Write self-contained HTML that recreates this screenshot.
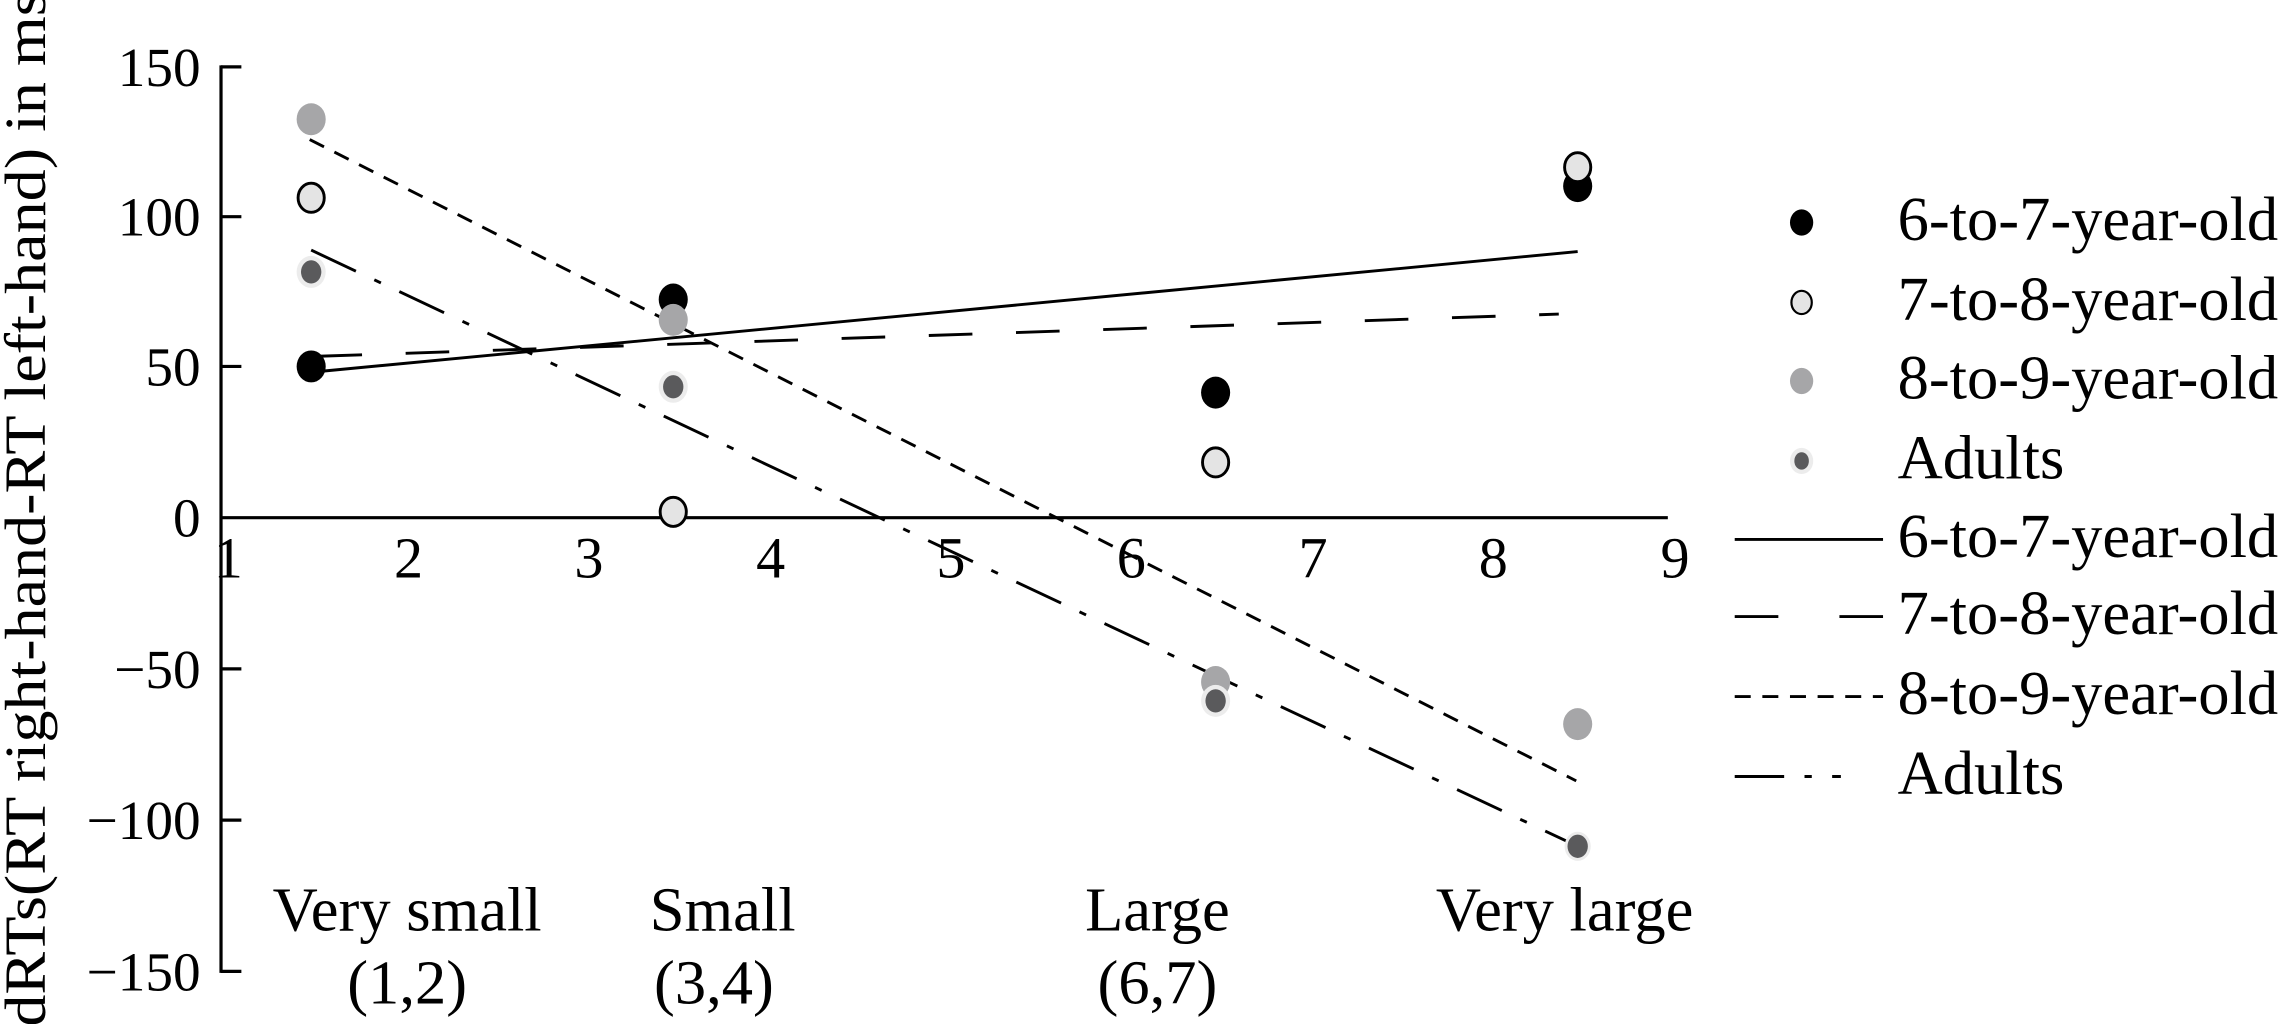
<!DOCTYPE html>
<html><head><meta charset="utf-8"><style>
html,body{margin:0;padding:0;background:#fff;}
svg{display:block;}
text{font-family:"Liberation Serif",serif;fill:#000;}
</style></head><body>
<svg width="2280" height="1024" viewBox="0 0 1568 704.2" preserveAspectRatio="none" xmlns="http://www.w3.org/2000/svg">
<rect width="1568" height="704.2" fill="#fff"/>
<text transform="translate(31,706) rotate(-90)" font-size="40" textLength="712" lengthAdjust="spacingAndGlyphs">dRTs(RT right-hand-RT left-hand) in ms</text>
<g stroke="#000" stroke-width="2.2" fill="none">
<line x1="152" y1="45" x2="152" y2="669"/>
<line x1="152" y1="46" x2="166" y2="46"/>
<line x1="152" y1="149" x2="166" y2="149"/>
<line x1="152" y1="252" x2="166" y2="252"/>
<line x1="152" y1="460" x2="166" y2="460"/>
<line x1="152" y1="564" x2="166" y2="564"/>
<line x1="152" y1="668" x2="166" y2="668"/>
<line x1="152" y1="356" x2="1147" y2="356"/>
</g>
<g font-size="38" text-anchor="end">
<text x="138" y="59">150</text>
<text x="138" y="162">100</text>
<text x="138" y="265">50</text>
<text x="138" y="369">0</text>
<text x="138" y="473">−50</text>
<text x="138" y="577">−100</text>
<text x="138" y="681">−150</text>
</g>
<g font-size="40" text-anchor="middle">
<text x="157" y="397">1</text>
<text x="281" y="397">2</text>
<text x="405" y="397">3</text>
<text x="530" y="397">4</text>
<text x="654" y="397">5</text>
<text x="778" y="397">6</text>
<text x="903" y="397">7</text>
<text x="1027" y="397">8</text>
<text x="1152" y="397">9</text>
</g>
<g font-size="43" text-anchor="middle">
<text x="280" y="640">Very small</text>
<text x="280" y="690">(1,2)</text>
<text x="497" y="640">Small</text>
<text x="491" y="690">(3,4)</text>
<text x="796" y="640">Large</text>
<text x="796" y="690">(6,7)</text>
<text x="1076" y="640">Very large</text>
</g>
<g stroke="#000" stroke-width="2" fill="none">
<line x1="214" y1="256" x2="1085" y2="173"/>
<line x1="219" y1="245" x2="1072" y2="216" stroke-dasharray="30,30"/>
<line x1="213" y1="96" x2="1084" y2="537" stroke-dasharray="11,8"/>
<line x1="214" y1="172" x2="1085" y2="582" stroke-dasharray="34,14,5,14"/>
</g>
<g stroke="#000" stroke-width="2">
<ellipse cx="214" cy="82" rx="10" ry="11" fill="#a6a6a8" stroke="none"/>
<ellipse cx="214" cy="136" rx="9" ry="10" fill="#e4e4e4"/>
<ellipse cx="214" cy="187" rx="10" ry="11" fill="#ececec" stroke="none"/>
<ellipse cx="214" cy="187" rx="7" ry="8" fill="#5a5a5c" stroke="none"/>
<ellipse cx="214" cy="252" rx="10" ry="11" fill="#000" stroke="none"/>
<ellipse cx="463" cy="206" rx="10" ry="11" fill="#000" stroke="none"/>
<ellipse cx="463" cy="220" rx="10" ry="11" fill="#a6a6a8" stroke="none"/>
<ellipse cx="463" cy="266" rx="10" ry="11" fill="#ececec" stroke="none"/>
<ellipse cx="463" cy="266" rx="7" ry="8" fill="#5a5a5c" stroke="none"/>
<ellipse cx="463" cy="352" rx="9" ry="10" fill="#e4e4e4"/>
<ellipse cx="836" cy="270" rx="10" ry="11" fill="#000" stroke="none"/>
<ellipse cx="836" cy="318" rx="9" ry="10" fill="#e4e4e4"/>
<ellipse cx="836" cy="469" rx="10" ry="11" fill="#a6a6a8" stroke="none"/>
<ellipse cx="836" cy="482" rx="10" ry="11" fill="#ececec" stroke="none"/>
<ellipse cx="836" cy="482" rx="7" ry="8" fill="#5a5a5c" stroke="none"/>
<ellipse cx="1085" cy="128" rx="10" ry="11" fill="#000" stroke="none"/>
<ellipse cx="1085" cy="115" rx="9" ry="10" fill="#e4e4e4"/>
<ellipse cx="1085" cy="498" rx="10" ry="11" fill="#a6a6a8" stroke="none"/>
<ellipse cx="1085" cy="582" rx="9" ry="10" fill="#ececec" stroke="none"/>
<ellipse cx="1085" cy="582" rx="7" ry="8" fill="#5a5a5c" stroke="none"/>
</g>
<g stroke="#000" stroke-width="1.5">
<ellipse cx="1239" cy="153" rx="8" ry="9" fill="#000" stroke="none"/>
<ellipse cx="1239" cy="208" rx="7" ry="8" fill="#e4e4e4"/>
<ellipse cx="1239" cy="262" rx="8" ry="9" fill="#a6a6a8" stroke="none"/>
<ellipse cx="1239" cy="317" rx="8" ry="9" fill="#ececec" stroke="none"/>
<ellipse cx="1239" cy="317" rx="5" ry="6" fill="#5a5a5c" stroke="none"/>
</g>
<g stroke="#000" stroke-width="2">
<line x1="1193" y1="371" x2="1295" y2="371"/>
<line x1="1193" y1="424" x2="1295" y2="424" stroke-dasharray="30,42"/>
<line x1="1193" y1="479" x2="1295" y2="479" stroke-dasharray="11,8"/>
<line x1="1193" y1="534" x2="1295" y2="534" stroke-dasharray="34,14,5,14,6"/>
</g>
<g font-size="43">
<text x="1305" y="165">6-to-7-year-old</text>
<text x="1305" y="220">7-to-8-year-old</text>
<text x="1305" y="274">8-to-9-year-old</text>
<text x="1305" y="329">Adults</text>
<text x="1305" y="383">6-to-7-year-old</text>
<text x="1305" y="436">7-to-8-year-old</text>
<text x="1305" y="491">8-to-9-year-old</text>
<text x="1305" y="546">Adults</text>
</g>
</svg>
</body></html>
